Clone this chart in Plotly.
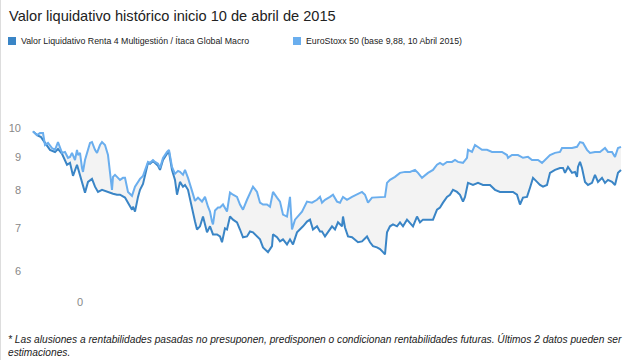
import plotly.graph_objects as go

# Sample positions (trading-day index from 10 Apr 2015) and values
dias_renta4 = [0, 4, 8, 12, 17, 22, 25, 29, 32, 34, 37, 40, 44, 47, 50, 52, 55, 59, 62, 65, 69, 74, 77, 80,
               84, 87, 92, 95, 97, 99, 100, 102, 105, 107, 110, 112, 114, 115, 117, 120, 122, 125, 127, 130,
               134, 136, 139, 142, 144, 147, 150, 152, 155, 157, 160, 162, 164, 167, 170, 174, 177, 180, 184,
               187, 189, 192, 194, 197, 200, 204, 207, 210, 214, 217, 220, 224, 227, 230, 235, 239, 240, 244,
               247, 250, 254, 257, 260, 264, 267, 270, 274, 277, 280, 284, 287, 289, 292, 295, 299, 302, 305,
               309, 310, 312, 315, 319, 322, 325, 329, 334, 337, 340, 344, 347, 350, 352, 354, 357, 360, 364,
               367, 370, 374, 377, 380, 384, 387, 390, 394, 397, 400, 404, 407, 410, 414, 417, 420, 424, 427,
               430, 432, 435, 440, 445, 450, 457, 462, 467, 472, 475, 480, 484, 487, 490, 494, 497, 500, 504,
               507, 510, 514, 517, 522, 527, 530, 532, 535, 539, 542, 544, 545, 547, 549, 552, 555, 559, 562,
               565, 569, 572, 575, 579, 582, 585, 588]
valor_renta4 = [9.88, 9.75, 9.68, 9.48, 9.25, 9.18, 9.28, 9.12, 8.92, 8.77, 8.83, 8.43, 8.77, 8.46, 8.19,
                7.94, 8.25, 8.34, 8.11, 7.96, 8.02, 7.96, 7.94, 7.91, 7.88, 7.88, 7.80, 7.66, 7.55, 7.47,
                7.55, 7.42, 7.82, 8.02, 8.19, 8.40, 8.70, 8.83, 8.80, 8.89, 8.83, 8.74, 8.61, 8.92, 9.12,
                9.18, 8.61, 8.31, 7.88, 8.25, 8.11, 8.16, 8.02, 7.74, 7.39, 7.16, 6.96, 7.04, 7.29, 6.89,
                7.04, 6.84, 6.84, 6.79, 6.65, 6.99, 6.96, 7.29, 7.21, 7.14, 6.96, 6.77, 6.79, 6.91, 6.89,
                6.79, 6.72, 6.53, 6.42, 6.56, 6.84, 6.77, 6.67, 6.72, 6.60, 6.72, 6.60, 6.89, 6.96, 7.04,
                7.16, 7.21, 6.96, 7.04, 6.91, 6.91, 6.79, 6.89, 7.04, 6.96, 7.14, 7.04, 7.29, 7.01, 6.79,
                6.77, 6.72, 6.65, 6.67, 6.79, 6.65, 6.56, 6.53, 6.49, 6.42, 6.37, 6.89, 7.04, 7.09, 7.04,
                7.14, 7.04, 7.21, 7.11, 7.04, 7.29, 7.14, 7.21, 7.21, 7.21, 7.21, 7.47, 7.53, 7.66, 7.82,
                7.88, 8.02, 7.96, 7.88, 7.69, 7.82, 8.22, 8.16, 8.22, 8.16, 8.16, 8.02, 7.96, 7.96, 7.96,
                7.96, 7.88, 7.61, 7.80, 7.82, 8.08, 8.37, 8.25, 8.16, 8.11, 8.16, 8.52, 8.61, 8.67, 8.67,
                8.52, 8.70, 8.52, 8.55, 8.40, 8.70, 8.86, 8.67, 8.25, 8.16, 8.22, 8.46, 8.25, 8.37, 8.22,
                8.31, 8.25, 8.16, 8.52, 8.61]

dias_stoxx = [0, 4, 7, 10, 12, 15, 19, 22, 25, 29, 32, 35, 37, 39, 42, 44, 45, 47, 49, 50, 52, 54, 57, 59,
              62, 64, 67, 69, 72, 75, 77, 79, 80, 82, 84, 87, 90, 92, 95, 99, 102, 104, 107, 110, 112, 114,
              115, 117, 120, 122, 125, 127, 130, 134, 136, 139, 142, 145, 147, 150, 152, 155, 157, 159, 162,
              165, 169, 172, 175, 177, 179, 180, 182, 185, 187, 190, 194, 197, 200, 204, 207, 210, 214, 217,
              220, 224, 227, 230, 234, 237, 240, 244, 247, 250, 254, 257, 259, 262, 265, 269, 274, 279, 284,
              287, 289, 292, 297, 300, 304, 307, 310, 314, 319, 324, 329, 332, 335, 339, 344, 349, 352, 354,
              357, 362, 367, 372, 377, 382, 385, 389, 392, 395, 400, 404, 407, 410, 414, 419, 422, 425, 430,
              434, 435, 439, 442, 445, 449, 454, 459, 464, 469, 474, 475, 479, 485, 490, 495, 499, 502, 505,
              509, 512, 517, 522, 527, 529, 534, 539, 544, 547, 550, 554, 557, 562, 567, 572, 575, 579, 582,
              585, 588]
valor_stoxx = [9.88, 9.75, 9.82, 9.82, 9.41, 9.48, 9.31, 9.25, 9.51, 9.15, 9.18, 8.99, 9.02, 9.15, 8.92,
               9.25, 9.08, 9.15, 8.67, 8.55, 8.92, 9.15, 9.48, 9.51, 9.25, 9.15, 9.41, 9.51, 9.41, 9.08,
               8.46, 8.02, 8.40, 8.46, 8.40, 8.31, 8.37, 8.37, 7.96, 7.85, 8.11, 8.22, 8.34, 8.43, 8.61,
               8.77, 8.86, 8.83, 8.92, 8.86, 8.80, 8.67, 8.99, 9.18, 9.25, 8.70, 8.49, 8.58, 8.55, 8.46,
               8.61, 8.37, 8.14, 7.99, 7.71, 7.80, 7.69, 7.82, 7.55, 7.42, 7.16, 7.09, 7.45, 7.53, 7.53,
               7.61, 7.42, 7.94, 7.88, 7.82, 7.61, 7.47, 7.74, 7.94, 8.11, 7.96, 7.66, 7.61, 7.61, 7.55,
               7.96, 7.80, 7.69, 7.34, 7.29, 7.82, 6.96, 7.21, 7.29, 7.42, 7.69, 7.66, 7.74, 7.82, 7.66,
               7.74, 7.82, 7.88, 7.69, 7.66, 7.82, 7.74, 7.82, 7.88, 7.96, 7.88, 7.66, 7.80, 7.80, 7.80,
               7.82, 8.22, 8.31, 8.40, 8.52, 8.55, 8.55, 8.61, 8.52, 8.37, 8.46, 8.52, 8.61, 8.77, 8.83,
               8.77, 8.86, 8.86, 8.92, 8.86, 8.83, 8.99, 9.25, 9.18, 9.41, 9.35, 9.25, 9.25, 9.18, 9.18,
               9.18, 9.08, 8.99, 9.08, 9.08, 8.99, 9.02, 8.92, 8.92, 8.92, 8.83, 8.92, 9.08, 9.15, 9.18,
               9.31, 9.31, 9.31, 9.35, 9.51, 9.48, 9.25, 9.15, 9.18, 9.18, 9.31, 9.18, 9.18, 9.02, 9.31,
               9.35]

nombre_renta4 = "Valor Liquidativo Renta 4 Multigestión / Ítaca Global Macro"
nombre_stoxx = "EuroStoxx 50 (base 9,88, 10 Abril 2015)"
titulo = "Valor liquidativo histórico inicio 10 de abril de 2015"
nota = ("* Las alusiones a rentabilidades pasadas no presuponen, predisponen o condicionan "
        "rentabilidades futuras. Últimos 2 datos pueden ser<br>estimaciones.")
y_ticks = [6, 7, 8, 9, 10]
x_tick_vals = [47]
x_tick_text = ["0"]

C_R4 = "#3a85c6"
C_SX = "#6aaeee"
FILL = "#f3f3f3"
FONT = "Liberation Sans, Arial, sans-serif"

fig = go.Figure()
# fill between the two series
fig.add_trace(go.Scatter(x=dias_renta4, y=valor_renta4, mode="lines", line=dict(width=0),
                         showlegend=False, hoverinfo="skip"))
fig.add_trace(go.Scatter(x=dias_stoxx, y=valor_stoxx, mode="lines", line=dict(width=0),
                         fill="tonexty", fillcolor=FILL, showlegend=False, hoverinfo="skip"))
# lines
fig.add_trace(go.Scatter(x=dias_renta4, y=valor_renta4, mode="lines", name=nombre_renta4,
                         line=dict(color=C_R4, width=2), showlegend=False))
fig.add_trace(go.Scatter(x=dias_stoxx, y=valor_stoxx, mode="lines", name=nombre_stoxx,
                         line=dict(color=C_SX, width=2), showlegend=False))

W, H = 636, 360
ml, mr, mt, mb = 22, 10, 100, 66
pw, ph = W - ml - mr, H - mt - mb

def px_x(p):
    return (p - ml) / pw

def px_y(p):
    return (H - mb - p) / ph

shapes = [
    dict(type="line", xref="paper", yref="paper", x0=px_x(0.5), x1=px_x(0.5), y0=px_y(H), y1=px_y(0),
         line=dict(color="#dddddd", width=1)),
    dict(type="rect", xref="paper", yref="paper", x0=px_x(8), x1=px_x(16), y0=px_y(45), y1=px_y(37),
         fillcolor=C_R4, line=dict(width=0)),
    dict(type="rect", xref="paper", yref="paper", x0=px_x(293), x1=px_x(301), y0=px_y(45), y1=px_y(37),
         fillcolor=C_SX, line=dict(width=0)),
]

annotations = [
    dict(text=titulo, xref="paper", yref="paper", x=px_x(7), y=px_y(16), xanchor="left", yanchor="middle",
         showarrow=False, font=dict(size=14.6, color="#222222", family=FONT)),
    dict(text=nombre_renta4, xref="paper", yref="paper", x=px_x(19), y=px_y(41), xanchor="left",
         yanchor="middle", showarrow=False, font=dict(size=8.8, color="#222222", family=FONT)),
    dict(text=nombre_stoxx, xref="paper", yref="paper", x=px_x(304), y=px_y(41), xanchor="left",
         yanchor="middle", showarrow=False, font=dict(size=8.8, color="#222222", family=FONT)),
    dict(text="<i>" + nota + "</i>", xref="paper", yref="paper", x=px_x(6), y=px_y(345), xanchor="left",
         yanchor="middle", align="left", showarrow=False,
         font=dict(size=10.2, color="#222222", family=FONT)),
]

fig.update_layout(
    width=W, height=H, margin=dict(l=ml, r=mr, t=mt, b=mb),
    paper_bgcolor="white", plot_bgcolor="white",
    font=dict(family=FONT),
    shapes=shapes, annotations=annotations,
    xaxis=dict(range=[-11, 593], showgrid=False, zeroline=False, showline=False,
               tickvals=x_tick_vals, ticktext=x_tick_text, tickfont=dict(size=11, color="#888888")),
    yaxis=dict(type="log", range=[0.74263, 1.04341], showgrid=False, zeroline=False, showline=False,
               tickvals=y_ticks, ticktext=[str(v) for v in y_ticks], tickfont=dict(size=11, color="#888888")),
    showlegend=False,
)

fig.write_html("out.html", config={"displayModeBar": False},
               post_script="document.body.style.margin='0';")
